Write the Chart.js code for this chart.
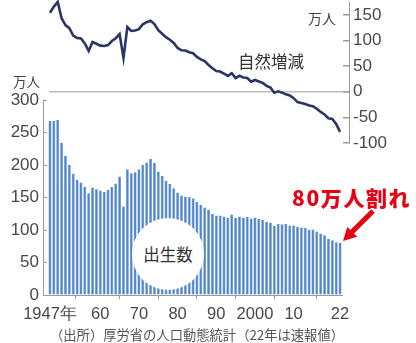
<!DOCTYPE html>
<html lang="ja">
<head>
<meta charset="utf-8">
<script src="https://cdn.jsdelivr.net/npm/chart.js@4.4.1/dist/chart.umd.min.js"></script>
<style>
  html, body { margin: 0; padding: 0; background: #fff; }
  #wrap { position: relative; width: 416px; height: 343px; overflow: hidden;
          font-family: "Noto Sans CJK JP", "Noto Sans", sans-serif; }
  #wrap canvas, #wrap svg { position: absolute; left: 0; top: 0; }
  .lbl { position: absolute; white-space: nowrap; line-height: 1; color: #444; }
  #bubble { position: absolute; left: 132px; top: 218px; width: 72px; height: 72px;
            border-radius: 50%; background: #fff; display: flex;
            align-items: center; justify-content: center; font-size: 16.5px; color: #333; }
</style>
</head>
<body>
<div id="wrap">
  <canvas id="births" width="416" height="343"></canvas>
  <canvas id="natural" width="416" height="343"></canvas>
  <div id="bubble">出生数</div>
  <div class="lbl" style="left:13px;top:75px;font-size:13.5px;">万人</div>
  <div class="lbl" style="left:308px;top:11px;font-size:14px;">万人</div>
  <div class="lbl" style="left:238px;top:53px;font-size:16.5px;color:#333;">自然増減</div>
  <div class="lbl" style="left:50px;top:328px;font-size:13.3px;color:#555;">（出所）厚労省の人口動態統計（22年は速報値）</div>
  <div class="lbl" style="left:292px;top:187px;font-size:21px;font-weight:900;letter-spacing:1.6px;color:#e60012;">80万人割れ</div>
  <svg width="416" height="343">
    <polygon fill="#e60012"
      points="371.2,209.2 350.4,230 347.3,226.9 343,241 357.1,236.7 354,233.6 374.8,212.8"/>
  </svg>
</div>
<script>
// 出生数と自然増減(万人)、1947〜2022年
const firstYear = 1947;
const births = [
  267.9, 268.2, 269.7, 233.8, 213.8, 200.5, 186.8, 177.0, 173.1, 166.5,
  156.7, 165.3, 162.6, 160.6, 158.9, 161.9, 166.0, 171.7, 182.4, 136.1,
  193.6, 187.2, 188.9, 193.4, 200.1, 203.9, 209.2, 203.0, 190.1, 183.3,
  175.5, 170.9, 164.3, 157.7, 152.9, 151.5, 150.9, 149.0, 143.2, 138.3,
  134.7, 131.4, 124.7, 122.2, 122.3, 120.9, 118.8, 123.8, 118.7, 120.7,
  119.2, 120.3, 117.8, 119.1, 117.1, 115.4, 112.4, 111.1, 106.3, 109.3,
  109.0, 109.1, 107.0, 107.1, 105.1, 103.7, 103.0, 100.4, 100.6, 97.7,
  94.6, 91.8, 86.5, 84.1, 81.2, 80.0
];
const naturalChange = [
  154.1, 166.0, 175.2, 143.3, 129.9, 124.0, 109.5, 104.9, 103.7, 94.1,
  79.5, 96.9, 93.6, 89.9, 89.3, 90.9, 98.9, 104.3, 112.4, 66.0,
  126.1, 118.5, 119.5, 122.1, 131.6, 135.6, 138.3, 131.9, 119.9, 113.0,
  106.5, 101.3, 95.3, 85.4, 80.9, 80.3, 76.9, 75.0, 68.0, 63.2,
  59.6, 52.1, 45.8, 40.2, 39.3, 35.2, 30.9, 36.2, 26.5, 31.1,
  27.9, 26.7, 19.6, 22.9, 20.1, 17.2, 11.5, 8.2, -2.1, 0.8,
  -1.8, -5.1, -7.2, -12.6, -20.2, -21.9, -23.8, -26.9, -28.4, -33.1,
  -39.4, -44.4, -51.6, -53.2, -62.8, -78.2
];
const years = births.map((_, i) => firstYear + i);
const yearTicks = [1947, 1960, 1970, 1980, 1990, 2000, 2010, 2022];
const birthTicks = [0, 50, 100, 150, 200, 250, 300];
const changeTicks = [-100, -50, 0, 50, 100, 150];

const axisGray = '#9a9a9a';
const tickFont = { family: '"Liberation Sans Narrow", "Liberation Sans", Arial, sans-serif', size: 17 };

Chart.defaults.animation = false;
Chart.defaults.color = '#484848';

const yearLabel = v => {
  if (v === 1947) return '1947年';
  if (v === 2000) return '2000';
  return String(v).slice(2);
};

// keep the plot areas exactly where the padding puts them
const noEdgePadding = s => {
  s.paddingTop = 0; s.paddingBottom = 0;
  s.paddingLeft = 0; s.paddingRight = 0;
};

// 出生数(棒)
new Chart(document.getElementById('births'), {
  type: 'bar',
  data: {
    datasets: [{
      data: years.map((y, i) => ({ x: y, y: births[i] })),
      backgroundColor: '#4f86cc',
      borderColor: '#3f74ba',
      borderWidth: { left: 0.5, right: 0.5, top: 0, bottom: 0 },
      categoryPercentage: 1,
      barPercentage: 0.74
    }]
  },
  options: {
    responsive: false,
    layout: { padding: { left: 0, right: 74, top: 100, bottom: 20 } },
    plugins: { legend: { display: false }, tooltip: { enabled: false } },
    scales: {
      x: {
        type: 'linear',
        offset: false,
        min: 1945.19,
        max: 2022.51,
        afterBuildTicks: s => { s.ticks = yearTicks.map(v => ({ value: v })); },
        afterFit: s => { s.height = 28; noEdgePadding(s); },
        ticks: { callback: yearLabel, font: { ...tickFont, size: 16.5 }, padding: 6, maxRotation: 0, autoSkip: false },
        grid: { drawOnChartArea: false, tickLength: 4, color: axisGray },
        border: { color: axisGray, width: 1 }
      },
      y: {
        min: 0,
        max: 300,
        afterBuildTicks: s => { s.ticks = birthTicks.map(v => ({ value: v })); },
        afterFit: s => { s.width = 43; noEdgePadding(s); },
        ticks: { font: tickFont, padding: 8 },
        grid: { drawOnChartArea: false, tickLength: -4, color: axisGray },
        border: { color: axisGray, width: 1 }
      }
    }
  }
});

// 自然増減(折れ線)
new Chart(document.getElementById('natural'), {
  type: 'line',
  data: {
    datasets: [{
      data: years.map((y, i) => ({ x: y, y: naturalChange[i] })),
      borderColor: '#2b3566',
      borderWidth: 2.6,
      pointRadius: 0,
      tension: 0,
      clip: false
    }]
  },
  options: {
    responsive: false,
    layout: { padding: { left: 49, right: 0, top: 2, bottom: 200 } },
    plugins: { legend: { display: false }, tooltip: { enabled: false } },
    scales: {
      x: {
        type: 'linear',
        display: false,
        min: 1946.74,
        max: 2024.32
      },
      y: {
        position: 'right',
        min: -100,
        max: 175,
        afterBuildTicks: s => { s.ticks = changeTicks.map(v => ({ value: v })); },
        afterFit: s => { s.width = 67; noEdgePadding(s); },
        ticks: { font: tickFont, padding: 10 },
        grid: {
          tickLength: -6,
          lineWidth: 1.5,
          color: ctx => (ctx.tick && ctx.tick.value === 0 ? '#bdbdbd' : 'rgba(0,0,0,0)'),
          tickColor: axisGray
        },
        border: { color: axisGray, width: 1 }
      }
    }
  }
});
</script>
</body>
</html>
